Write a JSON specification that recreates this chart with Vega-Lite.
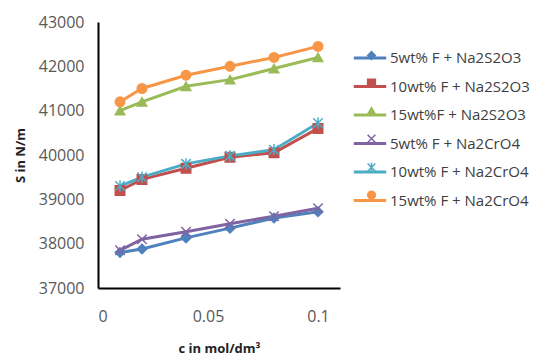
{
  "$schema": "https://vega.github.io/schema/vega-lite/v6.json",
  "autosize": {"type": "none"},
  "padding": {"left": 98, "top": 22, "right": 193, "bottom": 72},
  "width": 242,
  "height": 266,
  "background": "white",
  "config": {
    "view": {"stroke": null},
    "font": "Open Sans",
    "axis": {"labelFont": "Open Sans", "titleFont": "Open Sans"},
    "legend": {"labelFont": "Open Sans"}
  },
  "data": {
    "values": [
      {"c": 0.01, "S": 37800, "series": "5wt% F + Na2S2O3", "marker": "m1"},
      {"c": 0.02, "S": 37880, "series": "5wt% F + Na2S2O3", "marker": "m1"},
      {"c": 0.04, "S": 38130, "series": "5wt% F + Na2S2O3", "marker": "m1"},
      {"c": 0.06, "S": 38350, "series": "5wt% F + Na2S2O3", "marker": "m1"},
      {"c": 0.08, "S": 38580, "series": "5wt% F + Na2S2O3", "marker": "m1"},
      {"c": 0.1, "S": 38720, "series": "5wt% F + Na2S2O3", "marker": "m1"},
      {"c": 0.01, "S": 39200, "series": "10wt% F + Na2S2O3", "marker": "m2"},
      {"c": 0.02, "S": 39450, "series": "10wt% F + Na2S2O3", "marker": "m2"},
      {"c": 0.04, "S": 39700, "series": "10wt% F + Na2S2O3", "marker": "m2"},
      {"c": 0.06, "S": 39950, "series": "10wt% F + Na2S2O3", "marker": "m2"},
      {"c": 0.08, "S": 40050, "series": "10wt% F + Na2S2O3", "marker": "m2"},
      {"c": 0.1, "S": 40600, "series": "10wt% F + Na2S2O3", "marker": "m2"},
      {"c": 0.01, "S": 41000, "series": "15wt%F + Na2S2O3", "marker": "m3"},
      {"c": 0.02, "S": 41200, "series": "15wt%F + Na2S2O3", "marker": "m3"},
      {"c": 0.04, "S": 41550, "series": "15wt%F + Na2S2O3", "marker": "m3"},
      {"c": 0.06, "S": 41700, "series": "15wt%F + Na2S2O3", "marker": "m3"},
      {"c": 0.08, "S": 41950, "series": "15wt%F + Na2S2O3", "marker": "m3"},
      {"c": 0.1, "S": 42200, "series": "15wt%F + Na2S2O3", "marker": "m3"},
      {"c": 0.01, "S": 37850, "series": "5wt% F + Na2CrO4", "marker": "m4"},
      {"c": 0.02, "S": 38100, "series": "5wt% F + Na2CrO4", "marker": "m4"},
      {"c": 0.04, "S": 38270, "series": "5wt% F + Na2CrO4", "marker": "m4"},
      {"c": 0.06, "S": 38450, "series": "5wt% F + Na2CrO4", "marker": "m4"},
      {"c": 0.08, "S": 38620, "series": "5wt% F + Na2CrO4", "marker": "m4"},
      {"c": 0.1, "S": 38800, "series": "5wt% F + Na2CrO4", "marker": "m4"},
      {"c": 0.01, "S": 39300, "series": "10wt% F + Na2CrO4", "marker": "m5"},
      {"c": 0.02, "S": 39500, "series": "10wt% F + Na2CrO4", "marker": "m5"},
      {"c": 0.04, "S": 39800, "series": "10wt% F + Na2CrO4", "marker": "m5"},
      {"c": 0.06, "S": 39980, "series": "10wt% F + Na2CrO4", "marker": "m5"},
      {"c": 0.08, "S": 40120, "series": "10wt% F + Na2CrO4", "marker": "m5"},
      {"c": 0.1, "S": 40720, "series": "10wt% F + Na2CrO4", "marker": "m5"},
      {"c": 0.01, "S": 41200, "series": "15wt% F + Na2CrO4", "marker": "m6"},
      {"c": 0.02, "S": 41500, "series": "15wt% F + Na2CrO4", "marker": "m6"},
      {"c": 0.04, "S": 41800, "series": "15wt% F + Na2CrO4", "marker": "m6"},
      {"c": 0.06, "S": 42000, "series": "15wt% F + Na2CrO4", "marker": "m6"},
      {"c": 0.08, "S": 42200, "series": "15wt% F + Na2CrO4", "marker": "m6"},
      {"c": 0.1, "S": 42450, "series": "15wt% F + Na2CrO4", "marker": "m6"}
    ]
  },
  "encoding": {
    "x": {
      "field": "c", "type": "quantitative",
      "scale": {"domain": [0, 0.11], "nice": false},
      "axis": {
        "title": "c in mol/dm³", "values": [0, 0.05, 0.1], "format": "~g",
        "grid": false, "ticks": false, "domainColor": "black", "domainWidth": 2,
        "labelFontSize": 16, "labelColor": "#595959", "labelPadding": 20,
        "titleFontSize": 13, "titleFontWeight": "bold", "titleColor": "#222222",
        "titlePadding": 18
      }
    },
    "y": {
      "field": "S", "type": "quantitative",
      "scale": {"domain": [37000, 43000], "nice": false, "zero": false},
      "axis": {
        "title": "S  in N/m", "values": [37000, 38000, 39000, 40000, 41000, 42000, 43000],
        "format": "d", "grid": false, "ticks": false, "domainColor": "black", "domainWidth": 2,
        "labelFontSize": 16, "labelColor": "#595959", "labelPadding": 14,
        "titleFontSize": 13, "titleFontWeight": "bold", "titleColor": "#222222",
        "titlePadding": 11
      }
    }
  },
  "layer": [
    {
      "mark": {"type": "line", "strokeWidth": 3},
      "encoding": {
        "color": {
          "field": "series", "type": "nominal",
          "scale": {
            "domain": ["5wt% F + Na2S2O3", "10wt% F + Na2S2O3", "15wt%F + Na2S2O3", "5wt% F + Na2CrO4", "10wt% F + Na2CrO4", "15wt% F + Na2CrO4"],
            "range": ["#4F81BD", "#C0504D", "#9BBB59", "#8064A2", "#4BACC6", "#F79646"]
          },
          "legend": {
            "title": null, "orient": "none", "legendX": 254, "legendY": 18,
            "symbolType": "stroke", "symbolSize": 1050, "symbolStrokeWidth": 3,
            "labelFontSize": 15, "labelColor": "#404040", "labelOffset": 2,
            "rowPadding": 2.5
          }
        }
      }
    },
    {
      "mark": {"type": "point", "filled": true, "size": 90, "opacity": 1, "strokeWidth": 1.5},
      "encoding": {
        "shape": {
          "field": "marker", "type": "nominal",
          "scale": {
            "domain": ["m1", "m2", "m3", "m4", "m5", "m6"],
            "range": ["diamond", "square", "triangle-up", "M-1,-1L1,1M1,-1L-1,1", "M-1,-1L1,1M1,-1L-1,1M0,-1.2L0,1.2", "circle"]
          },
          "legend": {
            "title": null, "orient": "none", "legendX": 266, "legendY": 26,
            "symbolSize": 60, "symbolStrokeWidth": 1.5,
            "labelFontSize": 15, "labelOpacity": 0, "rowPadding": 11.7
          }
        },
        "fill": {
          "field": "marker", "type": "nominal",
          "scale": {
            "domain": ["m1", "m2", "m3", "m4", "m5", "m6"],
            "range": ["#4F81BD", "#C0504D", "#9BBB59", "#8064A2", "#4BACC6", "#F79646"]
          }
        },
        "stroke": {
          "field": "marker", "type": "nominal",
          "scale": {
            "domain": ["m1", "m2", "m3", "m4", "m5", "m6"],
            "range": ["#4F81BD", "#C0504D", "#9BBB59", "#8064A2", "#4BACC6", "#F79646"]
          }
        }
      }
    }
  ]
}
